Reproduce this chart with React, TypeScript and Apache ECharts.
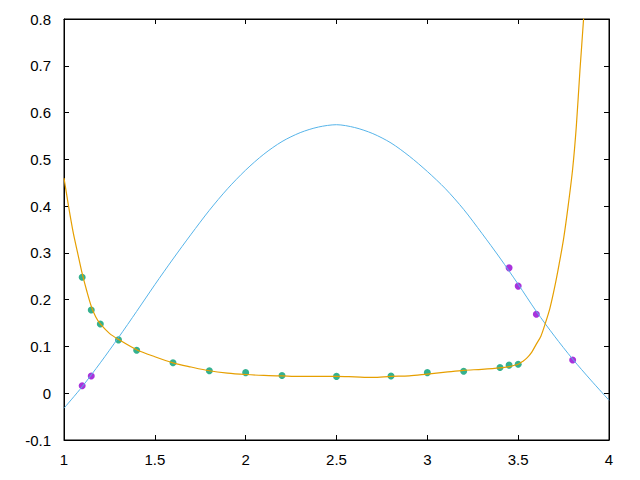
import React, { useEffect, useRef } from "react";
import * as echarts from "echarts";

const xTicks = [1, 1.5, 2, 2.5, 3, 3.5, 4];
const yTicks = [-0.1, 0, 0.1, 0.2, 0.3, 0.4, 0.5, 0.6, 0.7, 0.8];

// green measured points
const greenX = [1.1, 1.15, 1.2, 1.3, 1.4, 1.6, 1.8, 2.0, 2.2, 2.5, 2.8, 3.0, 3.2, 3.4, 3.45, 3.5];
const greenY = [0.248, 0.178, 0.148, 0.114, 0.092, 0.065, 0.048, 0.044, 0.038, 0.036, 0.037, 0.044, 0.047, 0.055, 0.06, 0.062];

// purple measured points
const purpleX = [1.1, 1.15, 3.45, 3.5, 3.6, 3.8];
const purpleY = [0.016, 0.037, 0.268, 0.229, 0.169, 0.071];

// blue curve
const blueX = [1.0, 1.1, 1.2, 1.3, 1.4, 1.5, 1.6, 1.7, 1.8, 1.9, 2.0, 2.1, 2.2, 2.3, 2.4, 2.5, 2.6, 2.7, 2.8, 2.9, 3.0, 3.1, 3.2, 3.3, 3.4, 3.5, 3.6, 3.7, 3.8, 3.9, 4.0];
const blueY = [-0.032, 0.014, 0.065, 0.119, 0.175, 0.232, 0.287, 0.34, 0.391, 0.437, 0.477, 0.511, 0.538, 0.557, 0.569, 0.574, 0.568, 0.555, 0.535, 0.507, 0.474, 0.437, 0.393, 0.342, 0.289, 0.233, 0.175, 0.122, 0.073, 0.028, -0.015];

// orange curve
const orangeX = [1.0, 1.025, 1.05, 1.075, 1.1, 1.125, 1.15, 1.175, 1.2, 1.25, 1.3, 1.4, 1.5, 1.6, 1.7, 1.8, 1.9, 2.0, 2.1, 2.2, 2.3, 2.4, 2.5, 2.6, 2.7, 2.8, 2.9, 3.0, 3.1, 3.2, 3.3, 3.4, 3.45, 3.5, 3.525, 3.55, 3.575, 3.6, 3.625, 3.65, 3.675, 3.7, 3.725, 3.75, 3.775, 3.8, 3.82, 3.84, 3.86, 3.88];
const orangeY = [0.46, 0.4, 0.345, 0.3, 0.256, 0.219, 0.186, 0.163, 0.148, 0.128, 0.115, 0.093, 0.078, 0.065, 0.056, 0.048, 0.043, 0.04, 0.038, 0.037, 0.036, 0.036, 0.036, 0.035, 0.034, 0.036, 0.037, 0.041, 0.045, 0.049, 0.051, 0.054, 0.057, 0.062, 0.068, 0.076, 0.088, 0.105, 0.122, 0.15, 0.182, 0.225, 0.275, 0.33, 0.4, 0.48, 0.57, 0.69, 0.8, 0.93];

const zip = (xs: number[], ys: number[]) => xs.map((x, i) => [x, ys[i]]);

export default function App() {
  const ref = useRef<HTMLDivElement>(null);
  useEffect(() => {
    if (!ref.current) return;
    const chart = echarts.init(ref.current, null, { renderer: "svg" });
    const font = { fontFamily: "Liberation Sans, Arial, sans-serif", fontSize: 15, color: "#000" };
    const axisLine = { show: true, onZero: false, lineStyle: { color: "#000", width: 1 } };
    const tick = { show: true, inside: true, length: 5, lineStyle: { color: "#000" } };
    chart.setOption({
      animation: false,
      backgroundColor: "#fff",
      grid: {
        left: 64, right: 31, top: 19, bottom: 40, containLabel: false,
        show: true, borderColor: "#000", borderWidth: 1, backgroundColor: "transparent",
      },
      xAxis: [
        {
          type: "value", position: "bottom", min: xTicks[0], max: xTicks[xTicks.length - 1], interval: 0.5,
          axisLine, axisTick: tick, splitLine: { show: false },
          axisLabel: { ...font, margin: 12 },
        },
        {
          type: "value", position: "top", min: xTicks[0], max: xTicks[xTicks.length - 1], interval: 0.5,
          axisLine, axisTick: tick, splitLine: { show: false }, axisLabel: { show: false },
        },
      ],
      yAxis: [
        {
          type: "value", position: "left", min: yTicks[0], max: yTicks[yTicks.length - 1], interval: 0.1,
          axisLine, axisTick: tick, splitLine: { show: false },
          axisLabel: { ...font, margin: 13 },
        },
        {
          type: "value", position: "right", min: yTicks[0], max: yTicks[yTicks.length - 1], interval: 0.1,
          axisLine, axisTick: tick, splitLine: { show: false }, axisLabel: { show: false },
        },
      ],
      series: [
        {
          type: "scatter", data: zip(purpleX, purpleY), symbol: "circle", symbolSize: 7,
          itemStyle: { color: "#9400d3" }, z: 2,
        },
        {
          type: "scatter", data: zip(greenX, greenY), symbol: "circle", symbolSize: 7,
          itemStyle: { color: "#009e73" }, z: 2,
        },
        {
          type: "line", data: zip(blueX, blueY), smooth: 0.3, showSymbol: false,
          lineStyle: { color: "#56b4e9", width: 1 }, z: 3,
        },
        {
          type: "line", data: zip(orangeX, orangeY), smooth: 0.3, showSymbol: false, clip: true,
          lineStyle: { color: "#e69f00", width: 1.2 }, z: 4,
        },
        // bind a series to the mirror axes so they are drawn
        {
          type: "line", xAxisIndex: 1, yAxisIndex: 1, data: [], silent: true,
        },
      ],
    });
    return () => chart.dispose();
  }, []);
  return (
    <div
      ref={ref}
      style={{ position: "fixed", left: 0, top: 0, width: 640, height: 480 }}
    />
  );
}
